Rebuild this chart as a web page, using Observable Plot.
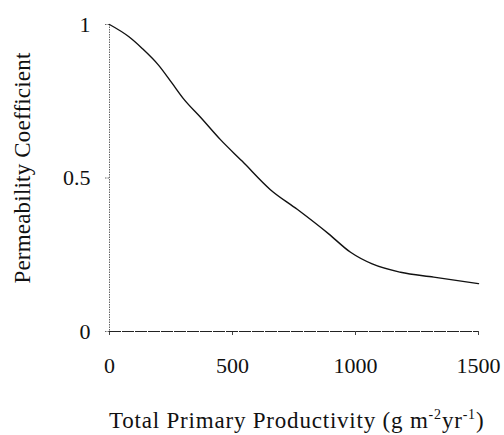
<!DOCTYPE html>
<html>
<head>
<meta charset="utf-8">
<script src="https://cdn.jsdelivr.net/npm/d3@7"></script>
<script src="https://cdn.jsdelivr.net/npm/@observablehq/plot@0.6"></script>
<style>
  html, body { margin: 0; padding: 0; background: #fff; }
  #chart svg { display: block; }
</style>
</head>
<body>
<div id="chart"></div>
<script>
// Data
const productivity = [0, 79, 133, 200, 255, 302, 370, 451, 539, 654, 763, 891, 980, 1068, 1183, 1318, 1500];
const permeability = [1.0, 0.960, 0.922, 0.867, 0.808, 0.757, 0.698, 0.625, 0.555, 0.462, 0.398, 0.318, 0.258, 0.220, 0.193, 0.177, 0.156];
const xTicks = [0, 500, 1000, 1500];
const yTicks = [0, 0.5, 1];
const xTitle = ["Total Primary Productivity (g m", "-2", "yr", "-1", ")"];
const yTitle = "Permeability Coefficient";

const data = productivity.map((x, i) => ({x, y: permeability[i]}));

const chart = Plot.plot({
  width: 504,
  height: 435,
  marginLeft: 109,
  marginRight: 26,
  marginTop: 24,
  marginBottom: 104,
  style: {fontFamily: "'Liberation Serif', 'Times New Roman', serif", color: "#111", background: "#fff"},
  x: {domain: [0, 1500]},
  y: {domain: [0, 1]},
  marks: [
    Plot.axisX({ticks: xTicks, tickSize: 4, tickPadding: 22, fontSize: 22, label: null, stroke: "#444", tickFormat: d => String(d)}),
    Plot.axisY({ticks: yTicks, tickSize: 4, tickPadding: 15, fontSize: 22, label: null, stroke: "#666", strokeDasharray: "1.5,1", tickFormat: d => String(d)}),
    Plot.ruleX([0], {stroke: "#666", strokeDasharray: "1.5,1", strokeWidth: 1}),
    Plot.ruleY([0], {stroke: "#222", strokeDasharray: "12,1", strokeWidth: 1}),
    Plot.line(data, {x: "x", y: "y", stroke: "#111", strokeWidth: 1.4, curve: "monotone-x"})
  ]
});

document.getElementById("chart").appendChild(chart);

const svg = d3.select(chart);
svg.append("text")
  .attr("transform", "translate(30,168) rotate(-90)")
  .attr("text-anchor", "middle")
  .attr("font-size", 23)
  .attr("letter-spacing", 0.2)
  .attr("fill", "#111")
  .text(yTitle);

const xt = svg.append("text")
  .attr("x", 109)
  .attr("y", 428)
  .attr("text-anchor", "start")
  .attr("font-size", 23)
  .attr("letter-spacing", 0.8)
  .attr("fill", "#111");
xt.append("tspan").text(xTitle[0]);
xt.append("tspan").attr("dy", -9).attr("font-size", 14).text(xTitle[1]);
xt.append("tspan").attr("dy", 9).text(xTitle[2]);
xt.append("tspan").attr("dy", -9).attr("font-size", 14).text(xTitle[3]);
xt.append("tspan").attr("dy", 9).text(xTitle[4]);
</script>
</body>
</html>
